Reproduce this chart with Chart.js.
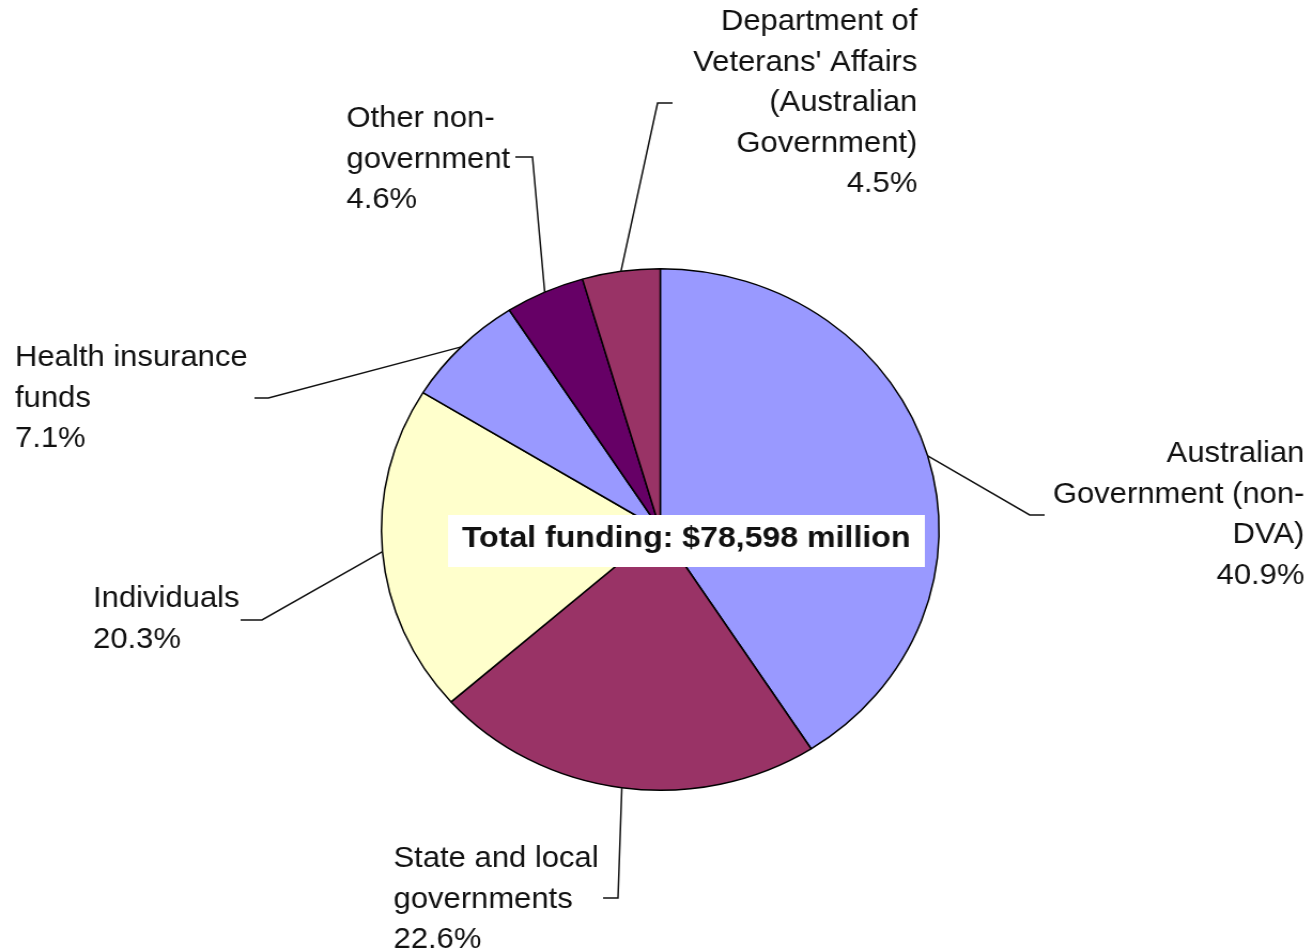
<!DOCTYPE html>
<html>
<head>
<meta charset="utf-8">
<script src="https://cdn.jsdelivr.net/npm/chart.js@4.4.0/dist/chart.umd.min.js"></script>
<style>
  html, body { margin: 0; padding: 0; background: #fff; }
  #funding { display: block; }
</style>
</head>
<body>
<!-- drawn narrower and widened by css, the pie comes out a little oval -->
<canvas id="funding" width="1228" height="950" style="width:1313px;height:950px"></canvas>
<script>
// share of total health funding, by source (per cent)
const sources = [
  'Australian Government (non-DVA)',
  'State and local governments',
  'Individuals',
  'Health insurance funds',
  'Other non-government',
  "Department of Veterans' Affairs (Australian Government)"
];
const shares = [40.9, 22.6, 20.3, 7.1, 4.6, 4.5];
const totalFunding = 78598; // $ million

// wrapped label text, one entry per source
const labelLines = [
  ['Australian', 'Government (non-', 'DVA)'],
  ['State and local', 'governments'],
  ['Individuals'],
  ['Health insurance', 'funds'],
  ['Other non-', 'government'],
  ['Department of', "Veterans' Affairs", '(Australian', 'Government)']
];

const sliceColours = ['#9999FF', '#993366', '#FFFFCC', '#9999FF', '#660066', '#993366'];

// where each leader line bends, where it stops, and where its text sits
const callouts = [
  { elbow: [963, 515], tail: [977, 515], textX: 1220, align: 'right', baseline: 462 },
  { elbow: [578, 898], tail: [564, 898], textX: 368, align: 'left', baseline: 867 },
  { elbow: [245, 620], tail: [225, 620], textX: 87, align: 'left', baseline: 607 },
  { elbow: [251, 398], tail: [238, 398], textX: 14, align: 'left', baseline: 366 },
  { elbow: [498, 157], tail: [482, 157], textX: 324, align: 'left', baseline: 127 },
  { elbow: [615, 103], tail: [629, 103], textX: 858, align: 'right', baseline: 30 }
];

const labelFont = '29px "Liberation Sans", Arial, sans-serif';
const lineHeight = 40.5;

const calloutPlugin = {
  id: 'callouts',
  afterDatasetsDraw(chart) {
    const ctx = chart.ctx;
    const arcs = chart.getDatasetMeta(0).data;
    ctx.save();
    arcs.forEach((arc, i) => {
      const p = arc.getProps(['x', 'y', 'startAngle', 'endAngle', 'outerRadius'], true);
      const mid = (p.startAngle + p.endAngle) / 2;
      const ex = p.x + Math.cos(mid) * p.outerRadius;
      const ey = p.y + Math.sin(mid) * p.outerRadius;
      const c = callouts[i];

      ctx.strokeStyle = '#111';
      ctx.lineWidth = 1.5;
      ctx.beginPath();
      ctx.moveTo(ex, ey);
      ctx.lineTo(c.elbow[0], c.elbow[1]);
      ctx.lineTo(c.tail[0], c.tail[1]);
      ctx.stroke();

      ctx.fillStyle = '#111';
      ctx.font = labelFont;
      ctx.textAlign = c.align;
      ctx.textBaseline = 'alphabetic';
      const lines = labelLines[i].concat(shares[i].toFixed(1) + '%');
      lines.forEach((line, k) => {
        ctx.fillText(line, c.textX, c.baseline + k * lineHeight);
      });
    });

    // total funding box across the middle of the pie
    ctx.fillStyle = '#fff';
    ctx.fillRect(419, 515, 446, 52);
    ctx.fillStyle = '#111';
    ctx.font = 'bold 30px "Liberation Sans", Arial, sans-serif';
    ctx.textAlign = 'left';
    ctx.fillText('Total funding: $' + totalFunding.toLocaleString('en-US') + ' million', 432, 547);
    ctx.restore();
  }
};

new Chart(document.getElementById('funding'), {
  type: 'pie',
  data: {
    labels: sources,
    datasets: [{
      data: shares,
      backgroundColor: sliceColours,
      borderColor: '#000',
      borderWidth: 1.5
    }]
  },
  options: {
    responsive: false,
    animation: false,
    layout: { padding: { top: 268, bottom: 159, left: 356, right: 349 } },
    plugins: {
      legend: { display: false },
      tooltip: { enabled: false }
    }
  },
  plugins: [calloutPlugin]
});
</script>
</body>
</html>
